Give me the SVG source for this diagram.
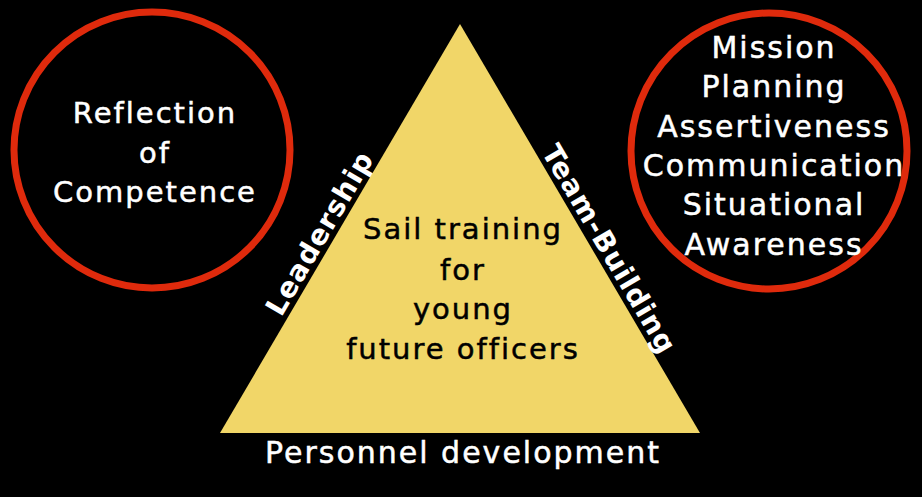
<svg xmlns="http://www.w3.org/2000/svg" width="922" height="497" viewBox="0 0 922 497">
<style>
.ring{fill:#000;stroke:#DF2A0C;stroke-width:7}
.wt{fill:#fff;stroke:#fff;stroke-width:0.5;font-family:"DejaVu Sans",Verdana,sans-serif;font-size:29px;letter-spacing:2px;text-anchor:middle}
.bt{fill:#000;stroke:#000;stroke-width:0.5;font-family:"DejaVu Sans",Verdana,sans-serif;font-size:29px;letter-spacing:2px;text-anchor:middle}
.edge{fill:#fff;font-family:"DejaVu Sans",Verdana,sans-serif;font-weight:bold;font-size:28px;letter-spacing:1px;text-anchor:middle}
</style>
<rect width="922" height="497" fill="#000"/>
<g id="reflection">
<circle class="ring" cx="152" cy="150" r="138"/>
<text class="wt" x="155" y="123">Reflection</text>
<text class="wt" x="155" y="163">of</text>
<text class="wt" x="155" y="202">Competence</text>
</g>
<g id="skills">
<circle class="ring" cx="769" cy="151" r="138"/>
<text class="wt" x="774" y="58" style="font-size:30px">Mission</text>
<text class="wt" x="774" y="97" style="font-size:30px">Planning</text>
<text class="wt" x="774" y="137" style="font-size:30px">Assertiveness</text>
<text class="wt" x="774" y="176" style="font-size:30px">Communication</text>
<text class="wt" x="774" y="215" style="font-size:30px">Situational</text>
<text class="wt" x="774" y="255" style="font-size:30px">Awareness</text>
</g>
<g id="triangle">
<polygon points="460,24 220,433 700,433" fill="#F1D668"/>
<text class="bt" x="463" y="239">Sail training</text>
<text class="bt" x="463" y="280">for</text>
<text class="bt" x="463" y="319">young</text>
<text class="bt" x="463" y="359">future officers</text>
</g>
<g id="labels">
<text class="edge" transform="translate(328,238) rotate(-59.6)">Leadership</text>
<text class="edge" transform="translate(601,254) rotate(59.6)">Team-Building</text>
<text class="wt" x="463" y="463" style="font-size:30px">Personnel development</text>
</g>
</svg>
